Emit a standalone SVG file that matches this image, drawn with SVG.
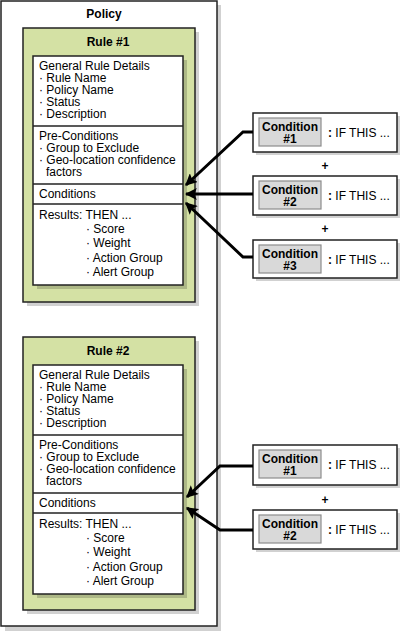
<svg xmlns="http://www.w3.org/2000/svg" width="401" height="632" viewBox="0 0 401 632">
<defs>
<style>
.t{font-family:"Liberation Sans",Arial,sans-serif;font-size:12px;fill:#000}
.b{font-weight:bold}
.shadow{fill:#000;fill-opacity:0.18}
.policy{fill:#fff;stroke:#222;stroke-width:1.5}
.rule{fill:#d4e1a4;stroke:#222;stroke-width:1.5}
.inner{fill:#fff;stroke:#222;stroke-width:1.5}
.sep{stroke:#222;stroke-width:1.5}
.cbox{fill:#fff;stroke:#222;stroke-width:1.5}
.cgray{fill:#d9d9d9;stroke:#8c8c8c;stroke-width:1.2}
.conn{fill:none;stroke:#000;stroke-width:3;stroke-linejoin:miter}
</style>
<marker id="ah" viewBox="0 0 10 10" refX="9" refY="5" markerWidth="4" markerHeight="4" orient="auto" markerUnits="strokeWidth">
<path d="M0,0 L10,5 L0,10 L2,5 z" fill="#000"/>
</marker>
</defs>

<g id="policy">
<rect class="shadow" x="5" y="5" width="216" height="626"/>
<rect class="policy" x="1" y="1" width="216" height="625"/>
<text class="t b" x="104" y="18" text-anchor="middle">Policy</text>
</g>

<g id="rule1">
<rect class="shadow" x="27" y="32" width="172" height="274"/>
<rect class="rule" x="23" y="28" width="172" height="274"/>
<text class="t b" x="108" y="46" text-anchor="middle">Rule #1</text>
<rect class="shadow" x="37" y="60" width="150" height="229"/>
<rect class="inner" x="33" y="56" width="150" height="229"/>
<line class="sep" x1="33" y1="126" x2="183" y2="126"/>
<line class="sep" x1="33" y1="184" x2="183" y2="184"/>
<line class="sep" x1="33" y1="204" x2="183" y2="204"/>
<text class="t" x="39" y="70">General Rule Details</text>
<text class="t" x="39" y="82">· Rule Name</text>
<text class="t" x="39" y="94">· Policy Name</text>
<text class="t" x="39" y="106">· Status</text>
<text class="t" x="39" y="118">· Description</text>
<text class="t" x="39" y="140">Pre-Conditions</text>
<text class="t" x="39" y="152">· Group to Exclude</text>
<text class="t" x="39" y="164">· Geo-location confidence</text>
<text class="t" x="46" y="176">factors</text>
<text class="t" x="39" y="198">Conditions</text>
<text class="t" x="39" y="219">Results: THEN ...</text>
<text class="t" x="86" y="233">· Score</text>
<text class="t" x="86" y="247">· Weight</text>
<text class="t" x="86" y="262">· Action Group</text>
<text class="t" x="86" y="276">· Alert Group</text>
</g>

<g id="rule2">
<rect class="shadow" x="27" y="341" width="172" height="273"/>
<rect class="rule" x="23" y="337" width="172" height="273"/>
<text class="t b" x="108" y="355" text-anchor="middle">Rule #2</text>
<rect class="shadow" x="37" y="369" width="150" height="229"/>
<rect class="inner" x="33" y="365" width="150" height="229"/>
<line class="sep" x1="33" y1="435" x2="183" y2="435"/>
<line class="sep" x1="33" y1="493" x2="183" y2="493"/>
<line class="sep" x1="33" y1="513" x2="183" y2="513"/>
<text class="t" x="39" y="379">General Rule Details</text>
<text class="t" x="39" y="391">· Rule Name</text>
<text class="t" x="39" y="403">· Policy Name</text>
<text class="t" x="39" y="415">· Status</text>
<text class="t" x="39" y="427">· Description</text>
<text class="t" x="39" y="449">Pre-Conditions</text>
<text class="t" x="39" y="461">· Group to Exclude</text>
<text class="t" x="39" y="473">· Geo-location confidence</text>
<text class="t" x="46" y="485">factors</text>
<text class="t" x="39" y="507">Conditions</text>
<text class="t" x="39" y="528">Results: THEN ...</text>
<text class="t" x="86" y="542">· Score</text>
<text class="t" x="86" y="556">· Weight</text>
<text class="t" x="86" y="571">· Action Group</text>
<text class="t" x="86" y="585">· Alert Group</text>
</g>

<g id="r1c1">
<rect class="shadow" x="256" y="116" width="144" height="39"/>
<rect class="cbox" x="253" y="113" width="144" height="39"/>
<rect class="cgray" x="259" y="118" width="62" height="28"/>
<text class="t b" x="290" y="131" text-anchor="middle">Condition</text>
<text class="t b" x="290" y="143" text-anchor="middle">#1</text>
<text class="t" x="328" y="137"><tspan class="b">:</tspan> IF THIS ...</text>
</g>
<g id="r1c2">
<rect class="shadow" x="256" y="179" width="144" height="39"/>
<rect class="cbox" x="253" y="176" width="144" height="39"/>
<rect class="cgray" x="259" y="181" width="62" height="28"/>
<text class="t b" x="290" y="194" text-anchor="middle">Condition</text>
<text class="t b" x="290" y="206" text-anchor="middle">#2</text>
<text class="t" x="328" y="200"><tspan class="b">:</tspan> IF THIS ...</text>
</g>
<g id="r1c3">
<rect class="shadow" x="256" y="243" width="144" height="38"/>
<rect class="cbox" x="253" y="240" width="144" height="38"/>
<rect class="cgray" x="259" y="245" width="62" height="28"/>
<text class="t b" x="290" y="258" text-anchor="middle">Condition</text>
<text class="t b" x="290" y="270" text-anchor="middle">#3</text>
<text class="t" x="328" y="264"><tspan class="b">:</tspan> IF THIS ...</text>
</g>
<g id="r2c1">
<rect class="shadow" x="256" y="448" width="144" height="40"/>
<rect class="cbox" x="253" y="445" width="144" height="40"/>
<rect class="cgray" x="259" y="450" width="62" height="28"/>
<text class="t b" x="290" y="463" text-anchor="middle">Condition</text>
<text class="t b" x="290" y="475" text-anchor="middle">#1</text>
<text class="t" x="328" y="469"><tspan class="b">:</tspan> IF THIS ...</text>
</g>
<g id="r2c2">
<rect class="shadow" x="256" y="513" width="144" height="39"/>
<rect class="cbox" x="253" y="510" width="144" height="39"/>
<rect class="cgray" x="259" y="515" width="62" height="28"/>
<text class="t b" x="290" y="528" text-anchor="middle">Condition</text>
<text class="t b" x="290" y="540" text-anchor="middle">#2</text>
<text class="t" x="328" y="534"><tspan class="b">:</tspan> IF THIS ...</text>
</g>

<g id="plus">
<text class="t b" x="325" y="170" text-anchor="middle">+</text>
<text class="t b" x="325" y="233" text-anchor="middle">+</text>
<text class="t b" x="325" y="504" text-anchor="middle">+</text>
</g>

<g id="connectors">
<polyline class="conn" points="253,132 243,132 186,185" marker-end="url(#ah)"/>
<polyline class="conn" points="253,194 186,194" marker-end="url(#ah)"/>
<polyline class="conn" points="253,257 243,257 186,203" marker-end="url(#ah)"/>
<polyline class="conn" points="253,466 220,466 187,497" marker-end="url(#ah)"/>
<polyline class="conn" points="253,530 220,530 187,508" marker-end="url(#ah)"/>
</g>
</svg>
